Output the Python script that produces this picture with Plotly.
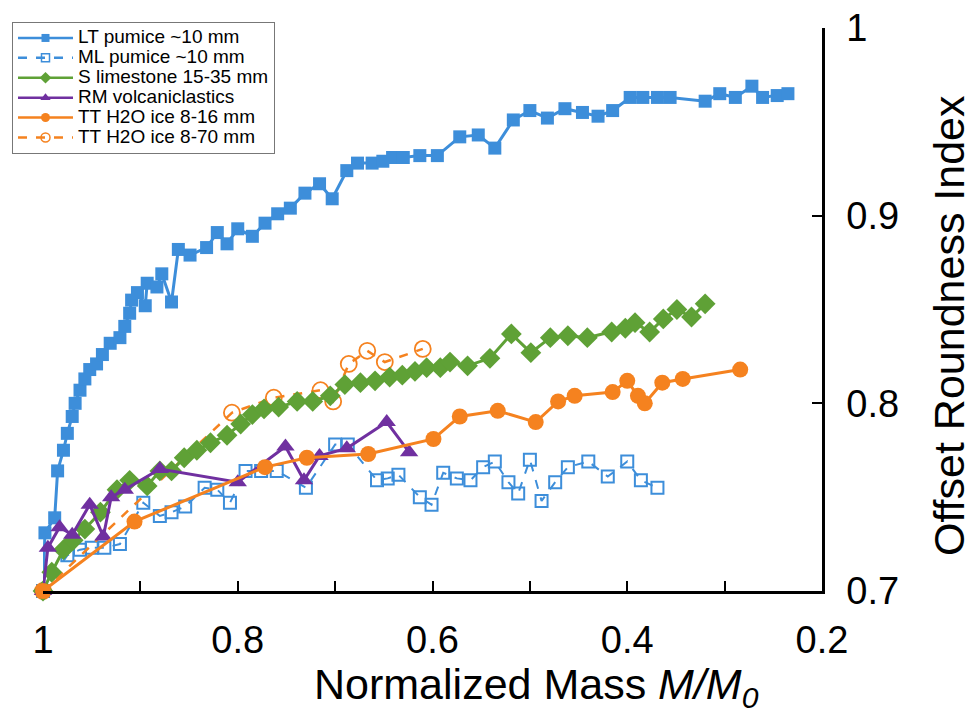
import plotly.graph_objects as go

# ---------------- data ----------------
lt_x = [1.0, 0.998, 0.988, 0.985, 0.979, 0.975, 0.970, 0.967, 0.962, 0.957, 0.952, 0.945, 0.939,
        0.931, 0.921, 0.916, 0.911, 0.909, 0.903, 0.895, 0.893, 0.883, 0.878, 0.868, 0.861, 0.849,
        0.832, 0.821, 0.811, 0.800, 0.785, 0.772, 0.759, 0.746, 0.731, 0.716, 0.703, 0.688, 0.677,
        0.662, 0.651, 0.641, 0.630, 0.613, 0.595, 0.572, 0.553, 0.536, 0.517, 0.500, 0.482, 0.464,
        0.446, 0.430, 0.415, 0.397, 0.384, 0.369, 0.356, 0.320, 0.305, 0.289, 0.272, 0.261, 0.246, 0.235]
lt_y = [0.700, 0.731, 0.739, 0.764, 0.775, 0.784, 0.793, 0.800, 0.807, 0.813, 0.818, 0.821, 0.826,
        0.832, 0.835, 0.841, 0.848, 0.855, 0.859, 0.852, 0.864, 0.862, 0.869, 0.854, 0.882, 0.879,
        0.883, 0.891, 0.885, 0.893, 0.889, 0.896, 0.901, 0.904, 0.912, 0.917, 0.909, 0.924, 0.928,
        0.928, 0.929, 0.931, 0.931, 0.932, 0.932, 0.942, 0.943, 0.936, 0.951, 0.956, 0.952, 0.957,
        0.955, 0.953, 0.956, 0.963, 0.963, 0.963, 0.963, 0.961, 0.965, 0.963, 0.969, 0.963, 0.964, 0.965]

ml_x = [1.0, 0.975, 0.962, 0.950, 0.937, 0.921, 0.897, 0.880, 0.868, 0.854, 0.834, 0.821, 0.808,
        0.792, 0.776, 0.760, 0.730, 0.700, 0.687, 0.657, 0.646, 0.635, 0.613, 0.601, 0.589, 0.575,
        0.561, 0.548, 0.536, 0.522, 0.512, 0.500, 0.488, 0.474, 0.461, 0.440, 0.420, 0.400, 0.386, 0.369]
ml_y = [0.700, 0.719, 0.722, 0.723, 0.723, 0.725, 0.747, 0.740, 0.742, 0.745, 0.755, 0.754, 0.747,
        0.764, 0.764, 0.764, 0.755, 0.778, 0.778, 0.759, 0.760, 0.762, 0.750, 0.746, 0.763, 0.760,
        0.759, 0.766, 0.769, 0.758, 0.752, 0.770, 0.748, 0.758, 0.766, 0.769, 0.761, 0.769, 0.759, 0.755]

s_x = [1.0, 0.991, 0.979, 0.969, 0.957, 0.941, 0.924, 0.911, 0.893, 0.880, 0.868, 0.855, 0.842,
       0.828, 0.811, 0.797, 0.785, 0.773, 0.758, 0.739, 0.723, 0.705, 0.690, 0.674, 0.659, 0.644,
       0.631, 0.618, 0.606, 0.592, 0.582, 0.564, 0.541, 0.519, 0.499, 0.479, 0.461, 0.441, 0.416,
       0.402, 0.392, 0.377, 0.363, 0.349, 0.334, 0.320]
s_y = [0.700, 0.710, 0.722, 0.727, 0.733, 0.742, 0.754, 0.759, 0.756, 0.764, 0.764, 0.771, 0.775,
       0.779, 0.783, 0.789, 0.794, 0.797, 0.798, 0.801, 0.801, 0.804, 0.810, 0.811, 0.812, 0.814,
       0.815, 0.817, 0.819, 0.819, 0.822, 0.820, 0.824, 0.837, 0.827, 0.835, 0.836, 0.835, 0.838,
       0.840, 0.843, 0.838, 0.845, 0.850, 0.846, 0.853]

rm_x = [1.0, 0.995, 0.983, 0.970, 0.952, 0.938, 0.930, 0.916, 0.880, 0.800, 0.751, 0.732, 0.716,
        0.688, 0.647, 0.624]
rm_y = [0.700, 0.723, 0.734, 0.730, 0.746, 0.729, 0.750, 0.754, 0.765, 0.758, 0.777, 0.759, 0.772,
        0.776, 0.790, 0.774]

tt16_x = [1.0, 0.906, 0.772, 0.729, 0.666, 0.599, 0.572, 0.533, 0.494, 0.471, 0.454, 0.415, 0.400,
          0.389, 0.382, 0.364, 0.343, 0.284]
tt16_y = [0.700, 0.737, 0.766, 0.771, 0.773, 0.781, 0.793, 0.796, 0.790, 0.801, 0.804, 0.806, 0.812,
          0.804, 0.800, 0.811, 0.813, 0.818]

tt70_x = [1.0, 0.806, 0.763, 0.715, 0.702, 0.686, 0.667, 0.649, 0.610]
tt70_y = [0.700, 0.795, 0.803, 0.807, 0.801, 0.821, 0.828, 0.822, 0.829]

names = ["LT pumice ~10 mm", "ML pumice ~10 mm", "S limestone 15-35 mm",
         "RM volcaniclastics", "TT H2O ice 8-16 mm", "TT H2O ice 8-70 mm"]

x_tickvals = [1.0, 0.9, 0.8, 0.7, 0.6, 0.5, 0.4, 0.3, 0.2]
x_ticktext = ["1", "", "0.8", "", "0.6", "", "0.4", "", "0.2"]
y_tickvals = [0.7, 0.8, 0.9, 1.0]
y_ticktext = ["0.7", "0.8", "0.9", "1"]

# ---------------- styles ----------------
BLUE = "#3D8EDA"
GREEN = "#5FA136"
PURPLE = "#7030A0"
ORANGE = "#F5821F"

fig = go.Figure()

# draw order (back to front)
fig.add_trace(go.Scatter(x=ml_x, y=ml_y, mode="lines+markers", showlegend=False, cliponaxis=False,
                         line=dict(color=BLUE, width=2, dash="dash"),
                         marker=dict(symbol="square-open", size=12, color=BLUE, line=dict(width=2, color=BLUE))))
fig.add_trace(go.Scatter(x=lt_x, y=lt_y, mode="lines+markers", showlegend=False, cliponaxis=False,
                         line=dict(color=BLUE, width=3),
                         marker=dict(symbol="square", size=13, color=BLUE)))
fig.add_trace(go.Scatter(x=tt70_x, y=tt70_y, mode="lines+markers", showlegend=False, cliponaxis=False,
                         line=dict(color=ORANGE, width=2.5, dash="dash"),
                         marker=dict(symbol="circle-open", size=16, color=ORANGE, line=dict(width=1.8, color=ORANGE))))
fig.add_trace(go.Scatter(x=s_x, y=s_y, mode="lines+markers", showlegend=False, cliponaxis=False,
                         line=dict(color=GREEN, width=3),
                         marker=dict(symbol="diamond", size=16, color=GREEN)))
fig.add_trace(go.Scatter(x=rm_x, y=rm_y, mode="lines+markers", showlegend=False, cliponaxis=False,
                         line=dict(color=PURPLE, width=3),
                         marker=dict(symbol="triangle-up", size=16, color=PURPLE)))
fig.add_trace(go.Scatter(x=tt16_x, y=tt16_y, mode="lines+markers", showlegend=False, cliponaxis=False,
                         line=dict(color=ORANGE, width=3),
                         marker=dict(symbol="circle", size=16, color=ORANGE)))

# legend entries (small symbols, as in the reference)
leg_styles = [
    dict(line=dict(color=BLUE, width=2.5), marker=dict(symbol="square", size=8, color=BLUE)),
    dict(line=dict(color=BLUE, width=2.5, dash="dash"),
         marker=dict(symbol="square-open", size=8, color=BLUE, line=dict(width=1.5, color=BLUE))),
    dict(line=dict(color=GREEN, width=2.5), marker=dict(symbol="diamond", size=9, color=GREEN)),
    dict(line=dict(color=PURPLE, width=2.5), marker=dict(symbol="triangle-up", size=9, color=PURPLE)),
    dict(line=dict(color=ORANGE, width=2.5), marker=dict(symbol="circle", size=9, color=ORANGE)),
    dict(line=dict(color=ORANGE, width=2.5, dash="dash"),
         marker=dict(symbol="circle-open", size=9, color=ORANGE, line=dict(width=1.5, color=ORANGE))),
]
for nm, st in zip(names, leg_styles):
    fig.add_trace(go.Scatter(x=[None], y=[None], mode="lines+markers",
                             name='<span style="font-size:19px">' + nm + '</span>',
                             showlegend=True, **st))

FONT = "Arial, Liberation Sans, sans-serif"

# the page adds an 8 px body margin, so the figure is sized/placed to compensate
W, H = 966, 705

fig.update_layout(
    width=W, height=H,
    margin=dict(l=35, r=152, t=20, b=122, autoexpand=False),
    paper_bgcolor="white", plot_bgcolor="white",
    font=dict(family=FONT, color="black"),
    showlegend=True,
    legend=dict(xref="container", yref="container", x=4 / W, y=1 - 14 / H,
                xanchor="left", yanchor="top",
                bgcolor="white", bordercolor="#777777", borderwidth=1,
                font=dict(size=13, family=FONT, color="black"),
                tracegroupgap=0, itemwidth=55),
    xaxis=dict(range=[1.0, 0.2], tickmode="array", tickvals=x_tickvals, ticktext=x_ticktext,
               ticks="inside", ticklen=10, tickwidth=2, tickcolor="black",
               showline=True, linecolor="black", linewidth=2.5, showgrid=False, zeroline=False,
               tickfont=dict(size=38, family=FONT, color="black"), ticklabelstandoff=14,
               ticklabeloverflow="allow"),
    yaxis=dict(range=[0.7, 1.0], side="right", tickmode="array", tickvals=y_tickvals, ticktext=y_ticktext,
               ticks="inside", ticklen=10, tickwidth=2, tickcolor="black",
               showline=True, linecolor="black", linewidth=2.5, showgrid=False, zeroline=False,
               tickfont=dict(size=38, family=FONT, color="black"), ticklabelstandoff=14,
               ticklabeloverflow="allow"),
    annotations=[
        dict(text="Normalized Mass <i>M/M</i><sub><i>0</i></sub>", xref="paper", yref="paper",
             x=0.633, y=0, yshift=-96, xanchor="center", yanchor="middle", showarrow=False,
             font=dict(size=43, family=FONT, color="black")),
        dict(text="Offset Roundness Index", xref="paper", yref="paper",
             x=1.164, y=0.472, xanchor="center", yanchor="middle", textangle=-90, showarrow=False,
             font=dict(size=43, family=FONT, color="black")),
    ],
)

fig.write_html("out.html")
